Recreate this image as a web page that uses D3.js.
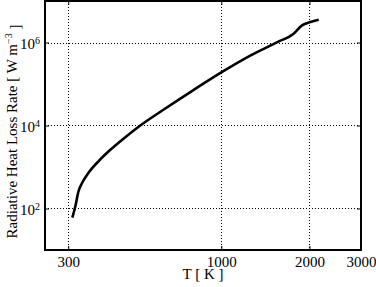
<!DOCTYPE html>
<html>
<head>
<meta charset="utf-8">
<script src="https://cdn.jsdelivr.net/npm/d3@7"></script>
<style>
  body { margin: 0; background: #fff; }
  svg { display: block; }
  svg text { font-family: "Liberation Serif", "DejaVu Serif", serif !important; fill: #000; }
</style>
</head>
<body>
<div id="chart"></div>
<script>
// temperature [K] and radiative heat loss rate [W m^-3]
const tempK = [310, 317.7, 324.5, 335, 353, 382, 417, 470, 529, 644, 796,
               1000, 1256, 1550, 1766, 1887, 2015, 2151];
const heatLoss = [60.6, 116, 243, 418, 745, 1410, 2560, 5220, 1.0e4, 2.57e4, 6.85e4,
                  1.9e5, 4.83e5, 1.01e6, 1.63e6, 2.59e6, 3.11e6, 3.55e6];

const xTicks = [300, 1000, 2000, 3000];
const yTicks = [1e2, 1e4, 1e6];
const yExponents = ['2', '4', '6'];

const width = 376;
const height = 287;
const margin = { top: 1, right: 15, bottom: 37, left: 45 };
const plot = {
    left: margin.left,
    right: width - margin.right,
    top: margin.top,
    bottom: height - margin.bottom,
};

const svg = d3.select('#chart')
    .append('svg')
    .attr('width', width)
    .attr('height', height)
    .attr('font-family', '"Liberation Serif", "DejaVu Serif", serif');

const x = d3.scaleLog().domain([250, 3000]).range([plot.left, plot.right]);
const y = d3.scaleLog().domain([10, 1e7]).range([plot.bottom, plot.top]);

// dotted grid
const grid = svg.append('g').attr('class', 'grid');
grid.selectAll('line.vx')
    .data(xTicks.filter(t => t < 3000))
    .join('line')
    .attr('x1', d => Math.round(x(d)) + 0.5)
    .attr('x2', d => Math.round(x(d)) + 0.5)
    .attr('y1', plot.top)
    .attr('y2', plot.bottom)
    .attr('stroke', '#000')
    .attr('stroke-width', 1)
    .attr('stroke-dasharray', '1,2');
grid.selectAll('line.hy')
    .data(yTicks)
    .join('line')
    .attr('x1', plot.left)
    .attr('x2', plot.right)
    .attr('y1', d => Math.round(y(d)) + 0.5)
    .attr('y2', d => Math.round(y(d)) + 0.5)
    .attr('stroke', '#000')
    .attr('stroke-width', 1)
    .attr('stroke-dasharray', '1,2');

// axes with inward ticks on all four sides
const xAxis = d3.axisBottom(x).tickValues(xTicks).tickFormat(d3.format('d'))
    .tickSizeInner(-4).tickSizeOuter(0).tickPadding(6);
const gx = svg.append('g')
    .attr('transform', `translate(0, ${plot.bottom})`)
    .call(xAxis);
gx.select('.domain').remove();
gx.attr('font-family', null);
gx.selectAll('.tick text').style('font-size', '15px');

svg.append('g')
    .attr('transform', `translate(0, ${plot.top})`)
    .call(d3.axisTop(x).tickValues(xTicks).tickFormat('').tickSizeInner(-4).tickSizeOuter(0))
    .call(g => g.select('.domain').remove());

const gy = svg.append('g')
    .attr('transform', `translate(${plot.left}, 0)`)
    .call(d3.axisLeft(y).tickValues(yTicks).tickSizeInner(-4).tickSizeOuter(0));
gy.select('.domain').remove();
gy.attr('font-family', null);
gy.selectAll('.tick text')
    .text(null)
    .attr('x', -5)
    .attr('dy', '0.4em')
    .attr('text-anchor', 'end')
    .style('font-size', '15px')
    .each(function (d, i) {
        const t = d3.select(this);
        t.append('tspan').text('10');
        t.append('tspan').attr('dy', '-0.55em').style('font-size', '10px').text(yExponents[i]);
    });

svg.append('g')
    .attr('transform', `translate(${plot.right}, 0)`)
    .call(d3.axisRight(y).tickValues(yTicks).tickFormat('').tickSizeInner(-4).tickSizeOuter(0))
    .call(g => g.select('.domain').remove());

// box
svg.append('rect')
    .attr('x', plot.left)
    .attr('y', plot.top)
    .attr('width', plot.right - plot.left)
    .attr('height', plot.bottom - plot.top)
    .attr('fill', 'none')
    .attr('stroke', '#000')
    .attr('stroke-width', 2);

// curve
const line = d3.line()
    .x((d, i) => x(tempK[i]))
    .y(d => y(d))
    .curve(d3.curveMonotoneX);

svg.append('path')
    .datum(heatLoss)
    .attr('d', line)
    .attr('fill', 'none')
    .attr('stroke', '#000')
    .attr('stroke-width', 2.6)
    .attr('stroke-linejoin', 'round');

// axis labels
svg.append('text')
    .attr('x', (plot.left + plot.right) / 2)
    .attr('y', 279)
    .attr('text-anchor', 'middle')
    .style('font-size', '15px')
    .text('T [ K ]');

const yLabel = svg.append('text')
    .attr('transform', `translate(17, ${(plot.top + plot.bottom) / 2 + 6}) rotate(-90)`)
    .attr('text-anchor', 'middle')
    .style('font-size', '15px');
yLabel.append('tspan').text('Radiative Heat Loss Rate [ W m');
yLabel.append('tspan').attr('dy', '-0.5em').style('font-size', '10px').text('−3');
yLabel.append('tspan').attr('dy', '0.5em').text(' ]');
</script>
</body>
</html>
